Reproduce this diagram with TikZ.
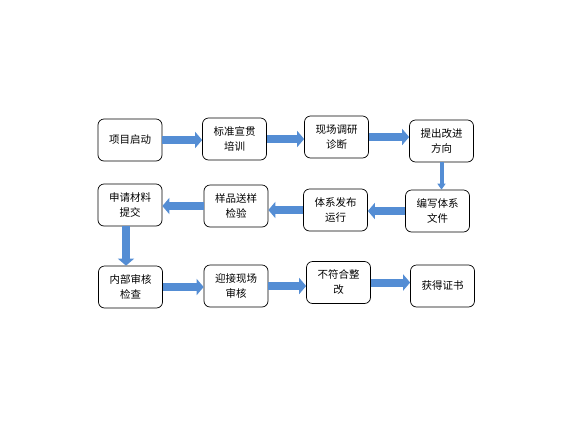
\documentclass[tikz,border=0pt]{standalone}
\usepackage{fontspec}
\newfontfamily\cjk{Noto Sans CJK SC}
\usetikzlibrary{arrows.meta}
\definecolor{flowblue}{RGB}{84,141,212}

\begin{document}
\begin{tikzpicture}[x=1pt, y=-1pt]
              % Define style for the nodes
              \tikzstyle{stage}=[draw, rounded corners=6pt, fill=white, line width=0.7pt,
                minimum width=64pt, minimum height=42pt, inner sep=2pt, align=center,
                font=\cjk\fontsize{10.5}{15}\selectfont]
              \tikzstyle{fatarrow}=[draw=flowblue, line width=8pt,
                -{Triangle[width=16pt, length=7pt, fill=flowblue]}]
              \tikzstyle{slimarrow}=[draw=flowblue, line width=4pt,
                -{Triangle[width=8pt, length=6pt, fill=flowblue]}]

              \useasboundingbox (0,0) rectangle (576,432);

              % First row
              \node[stage] (b1) at (130,140) {项目启动};
              \node[stage] (b2) at (234.5,139) {标准宣贯\\培训};
              \node[stage] (b3) at (336.5,137) {现场调研\\诊断};
              \node[stage] (b4) at (441.5,141) {提出改进\\方向};

              % Second row
              \node[stage] (c1) at (130,205) {申请材料\\提交};
              \node[stage] (c2) at (236,206) {样品送样\\检验};
              \node[stage] (c3) at (335.5,210) {体系发布\\运行};
              \node[stage] (c4) at (437.5,211) {编写体系\\文件};

              % Third row
              \node[stage] (d1) at (130.5,287) {内部审核\\检查};
              \node[stage] (d2) at (236,286) {迎接现场\\审核};
              \node[stage] (d3) at (338.5,282.5) {不符合整\\改};
              \node[stage] (d4) at (442.5,286) {获得证书};

              % Connect the stages
              \draw[fatarrow] (b1.east) -- (b1.east -| b2.west);
              \draw[fatarrow] (b2.east) -- (b2.east -| b3.west);
              \draw[fatarrow] (b3.east) -- (b3.east -| b4.west);
              \draw[slimarrow] (b4.south) -- (b4.south |- c4.north);
              \draw[fatarrow] (c4.west) -- (c4.west -| c3.east);
              \draw[fatarrow] (c3.west) -- (c3.west -| c2.east);
              \draw[fatarrow] (c2.west) -- (c2.west -| c1.east);
              \draw[fatarrow] ([xshift=-4pt]c1.south) -- ([xshift=-4pt]c1.south |- d1.north);
              \draw[fatarrow] (d1.east) -- (d1.east -| d2.west);
              \draw[fatarrow] (d2.east) -- (d2.east -| d3.west);
              \draw[fatarrow] (d3.east) -- (d3.east -| d4.west);
\end{tikzpicture}
\end{document}
